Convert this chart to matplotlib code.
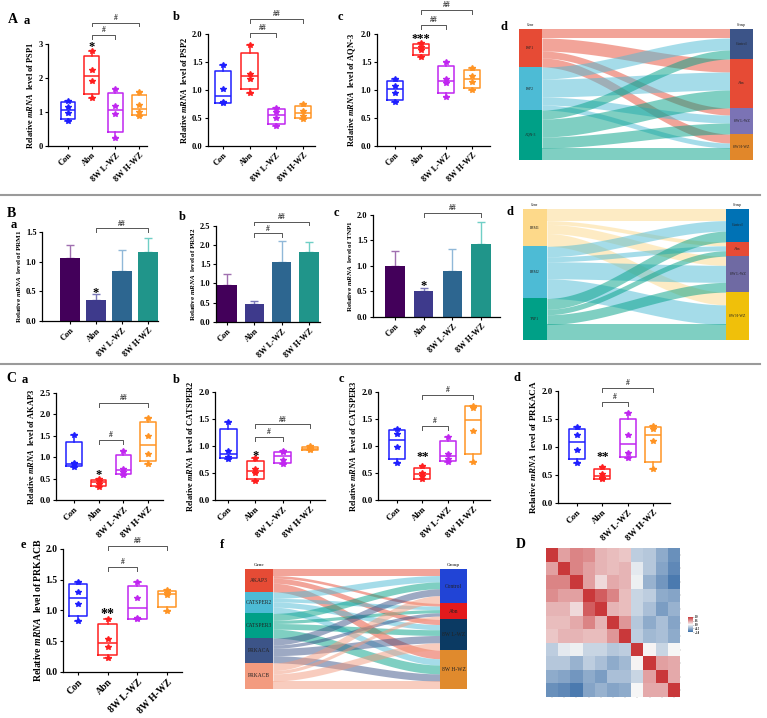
import numpy as np
import matplotlib.pyplot as plt
from matplotlib.lines import Line2D
from matplotlib.patches import Rectangle
from matplotlib.ticker import FormatStrFormatter
from matplotlib.colors import LinearSegmentedColormap

plt.rcParams['font.family'] = ['Liberation Serif', 'DejaVu Serif']
plt.rcParams['font.weight'] = 'bold'
plt.rcParams['axes.labelweight'] = 'bold'
plt.rcParams['mathtext.fontset'] = 'custom'
plt.rcParams['mathtext.it'] = 'Liberation Serif:italic:bold'
plt.rcParams['mathtext.rm'] = 'Liberation Serif:bold'

# ---- data ----
groups = ['Con', 'Abn', '8W L-WZ', '8W H-WZ']
sankey_groups = ['Control', 'Abn', '8W L-WZ', '8W H-WZ']

# A: qPCR values, 4 samples per group
psp1 = [[0.74, 0.97, 1.15, 1.33], [1.4, 1.9, 2.25, 2.8], [0.22, 0.95, 1.16, 1.68], [0.87, 1.0, 1.2, 1.6]]
psp2 = [[0.76, 0.79, 1.01, 1.45], [0.95, 1.2, 1.29, 1.8], [0.35, 0.49, 0.6, 0.68], [0.48, 0.54, 0.62, 0.74]]
aqn3 = [[0.78, 0.95, 1.08, 1.2], [1.6, 1.72, 1.78, 1.85], [0.88, 1.13, 1.2, 1.5], [1.0, 1.15, 1.25, 1.4]]
genes_a = ['PSP1', 'PSP2', 'AQN-3']
sankey_a = [[9, 13, 7, 9], [12, 18, 8, 5], [9, 18, 11, 12]]

# B: mean and SD
prm1_mean = [1.07, 0.35, 0.84, 1.17]
prm1_sd = [0.21, 0.11, 0.35, 0.23]
prm2_mean = [0.97, 0.46, 1.57, 1.81]
prm2_sd = [0.28, 0.08, 0.55, 0.28]
tnp1_mean = [1.0, 0.5, 0.9, 1.43]
tnp1_sd = [0.3, 0.07, 0.44, 0.44]
genes_b = ['PRM1', 'PRM2', 'TNP1']

# C
akap3 = [[0.78, 0.84, 0.86, 1.52], [0.3, 0.38, 0.45, 0.48], [0.58, 0.65, 0.73, 1.15], [0.85, 1.07, 1.5, 1.92]]
catsper2 = [[0.76, 0.8, 0.9, 1.45], [0.35, 0.5, 0.57, 0.77], [0.67, 0.75, 0.88, 0.9], [0.92, 0.94, 0.96, 1.0]]
catsper3 = [[0.69, 0.98, 1.23, 1.31], [0.38, 0.45, 0.5, 0.63], [0.7, 0.76, 0.86, 1.17], [0.7, 1.28, 1.7, 1.75]]
prkaca = [[0.72, 0.95, 1.22, 1.35], [0.42, 0.44, 0.52, 0.64], [0.8, 0.9, 1.22, 1.6], [0.6, 1.1, 1.32, 1.38]]
prkacb = [[0.83, 1.11, 1.3, 1.47], [0.23, 0.4, 0.54, 0.86], [0.86, 0.88, 1.2, 1.46], [0.99, 1.25, 1.29, 1.33]]
genes_c = ['AKAP3', 'CATSPER2', 'CATSPER3', 'PRKACA', 'PRKACB']

# D: correlation matrix
corr = [
    [1.00, 0.45, 0.60, 0.55, 0.35, 0.30, 0.25, -0.30, -0.35, -0.55, -0.75],
    [0.45, 1.00, 0.60, 0.45, 0.35, 0.30, 0.35, -0.10, -0.35, -0.60, -0.80],
    [0.60, 0.60, 1.00, 0.45, 0.15, 0.40, 0.35, -0.05, -0.50, -0.70, -0.90],
    [0.55, 0.45, 0.45, 1.00, 0.80, 0.60, 0.30, -0.25, -0.30, -0.55, -0.60],
    [0.35, 0.35, 0.15, 0.80, 1.00, 0.35, 0.30, -0.25, -0.40, -0.65, -0.50],
    [0.30, 0.30, 0.40, 0.60, 0.35, 1.00, 0.50, -0.35, -0.55, -0.40, -0.60],
    [0.25, 0.35, 0.35, 0.30, 0.30, 0.50, 1.00, -0.30, -0.45, -0.40, -0.55],
    [-0.30, -0.10, -0.05, -0.25, -0.25, -0.35, -0.30, 1.00, 0.02, -0.25, 0.00],
    [-0.35, -0.35, -0.50, -0.30, -0.40, -0.55, -0.45, 0.02, 1.00, 0.45, 0.40],
    [-0.55, -0.60, -0.70, -0.55, -0.65, -0.40, -0.40, -0.25, 0.45, 1.00, 0.40],
    [-0.75, -0.80, -0.90, -0.60, -0.50, -0.60, -0.55, 0.00, 0.40, 0.40, 1.00],
]

box_colors = ['#1f1fff', '#ff1f1f', '#c026f0', '#ff9424']
bar_colors = ['#43005a', '#3e3a8c', '#2d6690', '#20958a']
err_colors = ['#a070b0', '#7a78b8', '#90b8d8', '#70cfc6']

W, H = 767, 718
fig = plt.figure(figsize=(W / 100, H / 100), dpi=100)


def rect(l, t, r, b):
    return [l / W, 1 - b / H, (r - l) / W, (b - t) / H]


def letter(x, y, s, size=9):
    fig.text(x / W, 1 - y / H, s, fontsize=size, fontweight='bold', ha='center', va='center')


def style_axes(ax, xlim, ylim, yticks, fmt, gene, fs, lfs):
    ax.set_xlim(xlim)
    ax.set_ylim(ylim)
    ax.set_xticks(range(4))
    ax.set_xticklabels(groups, rotation=45, ha='right', va='top', rotation_mode='anchor', fontsize=fs)
    ax.set_yticks(yticks)
    ax.yaxis.set_major_formatter(FormatStrFormatter(fmt))
    ax.tick_params(labelsize=fs, length=2.5, width=0.8, pad=1.5)
    for s in ['top', 'right']:
        ax.spines[s].set_visible(False)
    for s in ['left', 'bottom']:
        ax.spines[s].set_linewidth(0.9)
    ax.set_ylabel('Relative $\\mathit{mRNA}$  level of ' + gene, fontsize=lfs, labelpad=2)


def annotate(ax, marks, brackets, ylim, sfs=9, bfs=5.5):
    h = 0.035 * (ylim[1] - ylim[0])
    for i, y, s in marks:
        ax.annotate(s, (i, y), xytext=(0, -1.5), textcoords='offset points', ha='center', va='center',
                    fontsize=sfs, annotation_clip=False)
    for i1, i2, y, s in brackets:
        ax.plot([i1, i1, i2, i2], [y - h, y, y, y - h], color='#555555', lw=0.7, clip_on=False)
        ax.text((i1 + i2) / 2, y + 0.2 * h, s, ha='center', va='bottom', fontsize=bfs,
                color='#333333', clip_on=False)


def box_panel(box, xlim, data, ylim, yticks, fmt, gene, marks, brackets, fs=6, lfs=6, sfs=9):
    ax = fig.add_axes(rect(*box))
    for i, (vals, c) in enumerate(zip(data, box_colors)):
        v = np.asarray(vals)
        q1, med, q3 = np.percentile(v, [25, 50, 75], method='weibull')
        st = dict(q1=q1, med=med, q3=q3, whislo=v.min(), whishi=v.max(), fliers=[])
        lp = dict(color=c, lw=1.1)
        ax.bxp([st], positions=[i], widths=0.62, capwidths=0.22, showfliers=False,
               manage_ticks=False, boxprops=lp, medianprops=lp, whiskerprops=lp, capprops=lp)
        ax.plot(np.full(len(v), i), v, ls='none', marker='*', ms=4, color=c)
    style_axes(ax, xlim, ylim, yticks, fmt, gene, fs, lfs)
    annotate(ax, marks, brackets, ylim, sfs=sfs)
    return ax


def bar_panel(box, xlim, means, sds, width, ylim, yticks, gene, marks, brackets):
    ax = fig.add_axes(rect(*box))
    ax.bar(range(4), means, width=width, color=bar_colors, zorder=2)
    for i in range(4):
        ax.errorbar(i, means[i], yerr=[[0], [sds[i]]], fmt='none', ecolor=err_colors[i],
                    elinewidth=1, capsize=3, capthick=1, zorder=1)
    style_axes(ax, xlim, ylim, yticks, '%.1f', gene, 6, 5)
    annotate(ax, marks, brackets, ylim)
    return ax


def sankey(box, flows, lnames, rnames, lcolors, rcolors, fs, bwl, bwr):
    ax = fig.add_axes(rect(*box))
    ax.set_xlim(0, 1)
    ax.set_ylim(1, 0)
    ax.axis('off')
    F = np.asarray(flows, float)
    F = F / F.sum()
    lt = np.concatenate([[0], np.cumsum(F.sum(1))])
    rt = np.concatenate([[0], np.cumsum(F.sum(0))])
    loff = lt[:-1].copy()
    roff = rt[:-1].copy()
    xs = np.linspace(bwl, 1 - bwr, 120)
    s = (xs - bwl) / (1 - bwl - bwr)
    s = 3 * s ** 2 - 2 * s ** 3
    for i in range(F.shape[0]):
        for j in range(F.shape[1]):
            v = F[i, j]
            top = loff[i] + (roff[j] - loff[i]) * s
            ax.fill_between(xs, top, top + v, color=lcolors[i], alpha=0.5, lw=0)
            loff[i] += v
            roff[j] += v
    for i, n in enumerate(lnames):
        ax.add_patch(Rectangle((0, lt[i]), bwl, lt[i + 1] - lt[i], color=lcolors[i], lw=0))
        ax.text(bwl / 2, (lt[i] + lt[i + 1]) / 2, n, ha='center', va='center', fontsize=fs,
                fontweight='normal', color='#222222')
    for j, n in enumerate(rnames):
        ax.add_patch(Rectangle((1 - bwr, rt[j]), bwr, rt[j + 1] - rt[j], color=rcolors[j], lw=0))
        ax.text(1 - bwr / 2, (rt[j] + rt[j + 1]) / 2, n, ha='center', va='center', fontsize=fs,
                fontweight='normal', color='#222222')
    ax.text(bwl / 2, -0.015, 'Gene', ha='center', va='bottom', fontsize=fs * 0.9, fontweight='normal')
    ax.text(1 - bwr / 2, -0.015, 'Group', ha='center', va='bottom', fontsize=fs * 0.9, fontweight='normal')


# ---- row A ----
letter(12.5, 19.5, 'A', 10)
letter(26.5, 21.5, 'a')
box_panel((48, 44.3, 147, 145.7), (-0.84, 3.33), psp1, (0, 3), [0, 1, 2, 3], '%d', 'PSP1',
          [(1, 2.98, '*')], [(1, 2, 3.27, '#'), (1, 3, 3.64, '#')])
letter(176, 17.3, 'b')
box_panel((208, 34.3, 315, 145.7), (-0.56, 3.45), psp2, (0, 2), [0, 0.5, 1, 1.5, 2], '%.1f', 'PSP2',
          [], [(1, 2, 2.02, '##'), (1, 3, 2.27, '##')])
letter(340, 17.3, 'c')
box_panel((377, 34.3, 490, 145.7), (-0.7, 3.7), aqn3, (0, 2), [0, 0.5, 1, 1.5, 2], '%.1f', 'AQN-3',
          [(1, 1.96, '***')], [(1, 2, 2.17, '##'), (1, 3, 2.44, '##')])
letter(503.7, 27.3, 'd')
sankey((519, 29, 753, 160), sankey_a, genes_a, sankey_groups,
       ['#e64b35', '#4dbbd5', '#00a087'], ['#3c5488', '#e64b35', '#7b73b5', '#e1872a'], 2.8, 0.098, 0.098)

fig.add_artist(Line2D([0, 760 / W], [1 - 195 / H] * 2, color='#9a9a9a', lw=1.5))

# ---- row B ----
letter(11, 214, 'B', 10)
letter(14, 225, 'a')
bar_panel((42, 232, 158, 321), (-1.08, 3.38), prm1_mean, prm1_sd, 0.77, (0, 1.5), [0, 0.5, 1, 1.5], 'PRM1',
          [(1, 0.51, '*')], [(1, 3, 1.56, '##')])
letter(182, 217, 'b')
bar_panel((216, 226, 320, 321.7), (-0.4, 3.4), prm2_mean, prm2_sd, 0.7, (0, 2.5), [0, 0.5, 1, 1.5, 2, 2.5],
          'PRM2', [], [(1, 2, 2.31, '#'), (1, 3, 2.61, '##')])
letter(336.7, 213, 'c')
bar_panel((373, 215, 500, 316.7), (-0.77, 3.66), tnp1_mean, tnp1_sd, 0.68, (0, 2), [0, 0.5, 1, 1.5, 2],
          'TNP1', [(1, 0.64, '*')], [(1, 3, 2.04, '##')])
letter(510, 212, 'd')
sankey((523, 209, 749, 340), [prm1_mean, prm2_mean, tnp1_mean], genes_b, sankey_groups,
       ['#fdd98a', '#4dbbd5', '#00a087'], ['#0072b5', '#e64b35', '#6f6aa3', '#f0c00a'], 2.8, 0.106, 0.102)

fig.add_artist(Line2D([0, 760 / W], [1 - 364 / H] * 2, color='#9a9a9a', lw=1.5))

# ---- row C ----
letter(11, 379, 'C', 10)
letter(24.5, 380, 'a')
box_panel((56, 393, 163, 500), (-0.72, 3.6), akap3, (0, 2.5), [0, 0.5, 1, 1.5, 2, 2.5], '%.1f', 'AKAP3',
          [(1, 0.63, '*')], [(1, 2, 1.4, '#'), (1, 3, 2.27, '##')], fs=6.5, lfs=6)
letter(176.7, 380, 'b')
box_panel((215, 392, 325, 500), (-0.48, 3.55), catsper2, (0, 2), [0, 0.5, 1, 1.5, 2], '%.1f', 'CATSPER2',
          [(1, 0.85, '*')], [(1, 2, 1.17, '#'), (1, 3, 1.4, '##')], fs=6.5, lfs=6)
letter(341.7, 379, 'c')
box_panel((378, 392, 490, 500), (-0.75, 3.67), catsper3, (0, 2), [0, 0.5, 1, 1.5, 2], '%.1f', 'CATSPER3',
          [(1, 0.83, '**')], [(1, 2, 1.37, '#'), (1, 3, 1.94, '#')], fs=6.5, lfs=6)
letter(516.7, 378, 'd')
box_panel((558, 391, 670, 503), (-0.75, 3.67), prkaca, (0, 2), [0, 0.5, 1, 1.5, 2], '%.1f', 'PRKACA',
          [(1, 0.86, '**')], [(1, 2, 1.81, '#'), (1, 3, 2.06, '#')], fs=6.5, lfs=6.5)
letter(23.3, 545, 'e')
box_panel((63, 549, 182, 671.7), (-0.5, 3.5), prkacb, (0, 2), [0, 0.5, 1, 1.5, 2], '%.1f', 'PRKACB',
          [(1, 0.96, '**')], [(1, 2, 1.71, '#'), (1, 3, 2.05, '##')], fs=7, lfs=7, sfs=10)

letter(221.7, 545, 'f')
means_c = [[float(np.mean(g)) for g in gene] for gene in [akap3, catsper2, catsper3, prkaca, prkacb]]
sankey((245, 569, 467, 689), means_c, genes_c, sankey_groups,
       ['#e64b35', '#4dbbd5', '#00a087', '#3c5488', '#f39b7f'],
       ['#2144d6', '#e31a1c', '#0b3a63', '#e08a2d'], 4, 0.126, 0.122)

# ---- D heatmap ----
letter(520.8, 545, 'D', 10)
corr_cmap = LinearSegmentedColormap.from_list('corr', ['#3a6ea8', '#f7f7f7', '#c9383a'])
axh = fig.add_axes(rect(546, 548, 680, 697))
im = axh.imshow(np.array(corr), cmap=corr_cmap, vmin=-1, vmax=1, aspect='auto')
axh.yaxis.tick_right()
axh.set_xticks(range(11))
axh.set_yticks(range(11))
axh.set_xticklabels([])
axh.set_yticklabels([])
axh.tick_params(length=1, width=0.3, color='#888888')
for s in axh.spines.values():
    s.set_visible(False)
axc = fig.add_axes(rect(688, 617, 693, 632))
cb = fig.colorbar(im, cax=axc, ticks=[-1, -0.5, 0, 0.5, 1])
cb.outline.set_visible(False)
axc.tick_params(labelsize=2, length=0.5, width=0.3, pad=0.5)

fig.savefig('out.png', dpi=100, facecolor='white')
